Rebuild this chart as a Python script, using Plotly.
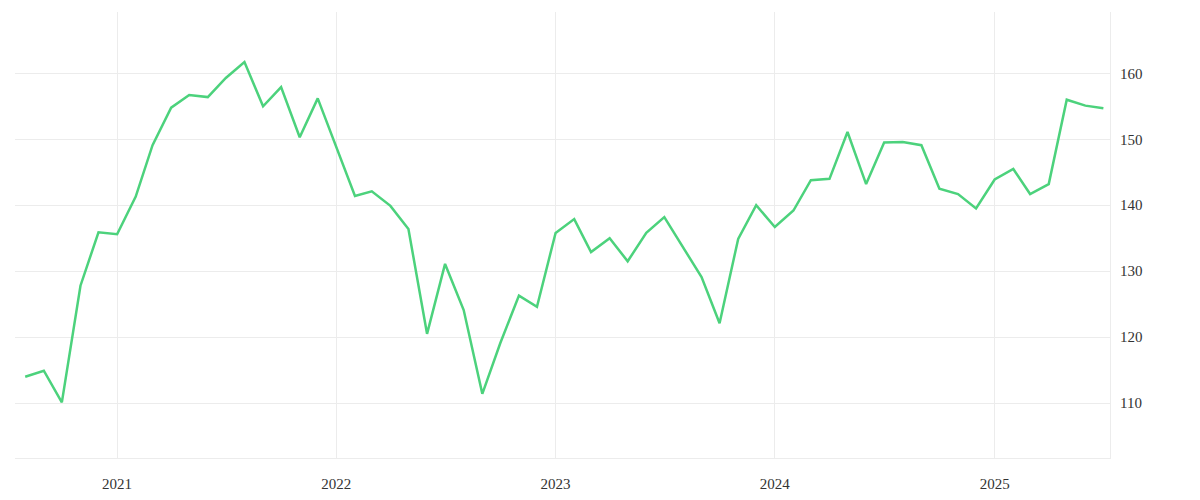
import plotly.graph_objects as go
import pandas as pd

dates = pd.date_range("2020-08-01", "2025-07-01", freq="MS")
values = [114.0, 114.9, 110.1, 127.8, 135.9, 135.6, 141.3, 149.1, 154.8, 156.7,
          156.4, 159.3, 161.7, 155.0, 157.9, 150.3, 156.2, 148.9, 141.4, 142.1,
          139.9, 136.4, 120.5, 131.1, 124.1, 111.4, 119.1, 126.3, 124.6, 135.8,
          137.9, 132.9, 135.0, 131.5, 135.8, 138.2, 133.7, 129.1, 122.1, 134.9,
          140.0, 136.7, 139.2, 143.8, 144.0, 151.1, 143.2, 149.5, 149.6, 149.1,
          142.5, 141.7, 139.5, 143.9, 145.5, 141.7, 143.2, 156.0, 155.1, 154.7]
year_ticks = ["2021-01-01", "2022-01-01", "2023-01-01", "2024-01-01", "2025-01-01"]
year_labels = ["2021", "2022", "2023", "2024", "2025"]
y_ticks = [110, 120, 130, 140, 150, 160]

fig = go.Figure(go.Scatter(x=dates, y=values, mode="lines",
                           line=dict(color="#4cd27c", width=2.5), hoverinfo="x+y"))
fig.update_layout(
    width=1200, height=500, paper_bgcolor="white", plot_bgcolor="white",
    margin=dict(l=7, r=98, t=4, b=50), showlegend=False,
    font=dict(family="Liberation Serif", size=15, color="#333"),
)
fig.update_xaxes(range=["2020-07-15", "2025-07-12"], tickvals=year_ticks, ticktext=year_labels,
                 showgrid=True, gridcolor="#ececec", gridwidth=1, showline=True, linecolor="#ececec",
                 zeroline=False, ticks="", ticklabelstandoff=12)
fig.update_yaxes(range=[101.67, 169.3], tickvals=y_ticks, side="right",
                 showgrid=True, gridcolor="#ececec", gridwidth=1, showline=True, linecolor="#ececec",
                 zeroline=False, ticks="", ticklabelstandoff=6)
fig.write_html("out.html", config={"displayModeBar": False})
